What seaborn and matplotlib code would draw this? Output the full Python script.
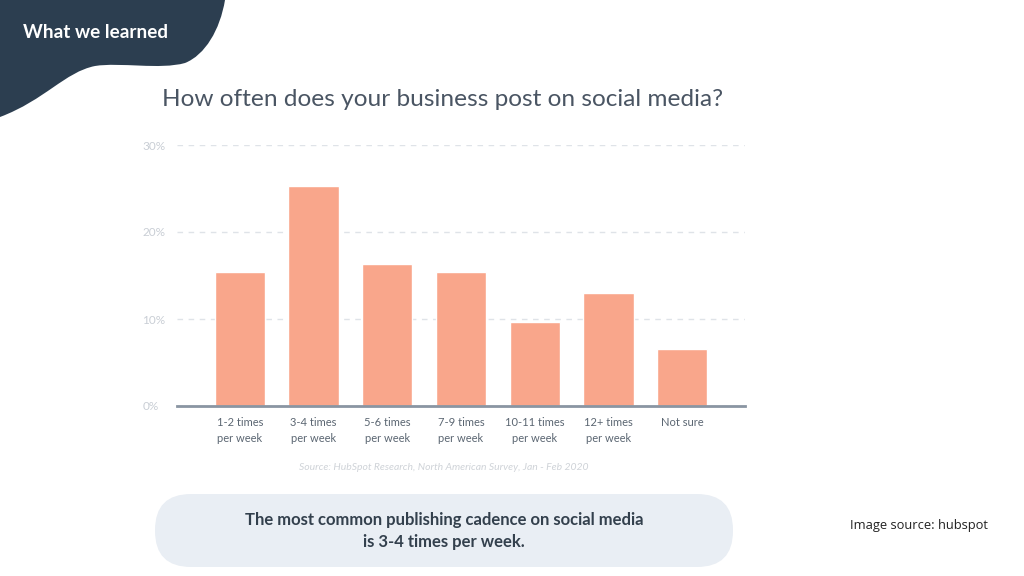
import matplotlib
matplotlib.use("Agg")
import matplotlib.pyplot as plt
from matplotlib.patches import PathPatch, FancyBboxPatch
from matplotlib.path import Path
import seaborn as sns
import pandas as pd

categories = ["1-2 times\nper week", "3-4 times\nper week", "5-6 times\nper week",
              "7-9 times\nper week", "10-11 times\nper week", "12+ times\nper week", "Not sure"]
values = [15.4, 25.3, 16.3, 15.4, 9.6, 13.0, 6.5]
yticks = [0, 10, 20, 30]
ytick_labels = ["0%", "10%", "20%", "30%"]

sns.set_theme(style="white")
plt.rcParams["font.family"] = ["Lato", "DejaVu Sans"]

W, H = 1024, 576
fig = plt.figure(figsize=(W / 100, H / 100), dpi=100)
fig.patch.set_facecolor("white")

# overlay axes in pixel coordinates for decorations
deco = fig.add_axes([0, 0, 1, 1])
deco.set_xlim(0, W)
deco.set_ylim(H, 0)
deco.axis("off")

# dark blob top-left
verts = [(0, 0), (225, 0),
         (220, 30), (205, 55), (185, 63),
         (160, 70), (120, 62), (95, 66),
         (65, 72), (45, 100), (0, 117),
         (0, 0)]
codes = [Path.MOVETO, Path.LINETO,
         Path.CURVE4, Path.CURVE4, Path.CURVE4,
         Path.CURVE4, Path.CURVE4, Path.CURVE4,
         Path.CURVE4, Path.CURVE4, Path.CURVE4,
         Path.CLOSEPOLY]
deco.add_patch(PathPatch(Path(verts, codes), facecolor="#2c3e50", edgecolor="none"))
deco.text(23, 33, "What we learned", color="white", fontsize=13.6, fontweight="bold",
          ha="left", va="center")

# title
deco.text(443, 100, "How often does your business post on social media?", color="#4a5563",
          fontsize=17.6, ha="center", va="center")

# source
deco.text(444, 467, "Source: HubSpot Research, North American Survey, Jan - Feb 2020",
          color="#cfd3d8", fontsize=7.5, style="italic", ha="center", va="center")

# rounded box
deco.add_patch(FancyBboxPatch((155, 494), 578, 73,
                              boxstyle="round,pad=0,rounding_size=36",
                              facecolor="#e9eef4", edgecolor="none"))
deco.text(444, 531, "The most common publishing cadence on social media\nis 3-4 times per week.",
          color="#33404d", fontsize=12, fontweight="bold", ha="center", va="center", linespacing=1.5)

deco.text(919, 526, "Image source: hubspot", color="#222222", fontsize=9.3,
          ha="center", va="center", family=["Open Sans", "DejaVu Sans"])

# chart axes (pixel based placement)
left, right, top, bottom = 177, 745, 145, 406
ax = fig.add_axes([left / W, 1 - bottom / H, (right - left) / W, (bottom - top) / H])

df = pd.DataFrame({"cat": categories, "val": values})
sns.barplot(data=df, x="cat", y="val", color="#F9A68B", width=0.68, ax=ax, saturation=1)

ax.set_xlim(-0.85, 6.85)
ax.set_ylim(0, 30)
ax.set_yticks(yticks)
ax.set_yticklabels(ytick_labels, color="#c9ced5", fontsize=8.5, ha="left")
ax.set_xlabel("")
ax.set_ylabel("")
ax.tick_params(axis="x", labelsize=8, colors="#5b6672", length=0, pad=8)
ax.tick_params(axis="y", length=0, pad=25)
for lbl in ax.get_xticklabels():
    lbl.set_linespacing(1.5)
ax.set_axisbelow(True)
ax.yaxis.grid(True, linestyle=(0, (4, 4)), color="#dfe3e8", linewidth=1)
for s in ["top", "right", "left"]:
    ax.spines[s].set_visible(False)
ax.spines["bottom"].set_color("#8a95a2")
ax.spines["bottom"].set_linewidth(2)
ax.patch.set_alpha(0)

fig.savefig("out.png", dpi=100, facecolor="white")
